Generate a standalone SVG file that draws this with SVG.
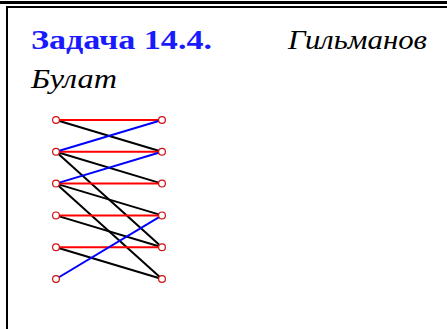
<svg xmlns="http://www.w3.org/2000/svg" width="447" height="329" viewBox="0 0 447 329">
<style>
.e{stroke-width:2;fill:none}
.k{stroke:#000}
.r{stroke:#ff0000}
.b{stroke:#0000ff}
.n{fill:#fff;stroke:#d01010;stroke-width:1.2}
.t{font-family:"Liberation Serif","DejaVu Serif",serif;font-size:28px}
</style>
<rect x="0" y="1" width="447" height="3" fill="#000"/>
<rect x="6" y="6" width="441" height="2" fill="#000"/>
<rect x="6" y="6" width="2" height="323" fill="#000"/>
<text class="t" x="31" y="49" fill="#1a1aff" font-weight="bold" textLength="181" lengthAdjust="spacingAndGlyphs">Задача 14.4.</text>
<text class="t" x="288" y="49" font-style="italic" textLength="139" lengthAdjust="spacingAndGlyphs">Гильманов</text>
<text class="t" x="31" y="88" font-style="italic" textLength="86" lengthAdjust="spacingAndGlyphs">Булат</text>
<g id="connectors">
<line class="e k" x1="56" y1="120" x2="162" y2="151.8"/>
<line class="e k" x1="56" y1="151.8" x2="162" y2="183.6"/>
<line class="e k" x1="56" y1="151.8" x2="162" y2="247.2"/>
<line class="e k" x1="56" y1="183.6" x2="162" y2="215.4"/>
<line class="e k" x1="56" y1="183.6" x2="162" y2="279"/>
<line class="e k" x1="56" y1="215.4" x2="162" y2="247.2"/>
<line class="e k" x1="56" y1="247.2" x2="162" y2="279"/>
<line class="e r" x1="56" y1="120" x2="162" y2="120"/>
<line class="e r" x1="56" y1="151.8" x2="162" y2="151.8"/>
<line class="e r" x1="56" y1="183.6" x2="162" y2="183.6"/>
<line class="e r" x1="56" y1="215.4" x2="162" y2="215.4"/>
<line class="e r" x1="56" y1="247.2" x2="162" y2="247.2"/>
<line class="e b" x1="56" y1="151.8" x2="162" y2="120"/>
<line class="e b" x1="56" y1="183.6" x2="162" y2="151.8"/>
<line class="e b" x1="56" y1="279" x2="162" y2="215.4"/>
</g>
<g id="L1"><circle class="n" cx="56" cy="120" r="3.4"/></g>
<g id="L2"><circle class="n" cx="56" cy="151.8" r="3.4"/></g>
<g id="L3"><circle class="n" cx="56" cy="183.6" r="3.4"/></g>
<g id="L4"><circle class="n" cx="56" cy="215.4" r="3.4"/></g>
<g id="L5"><circle class="n" cx="56" cy="247.2" r="3.4"/></g>
<g id="L6"><circle class="n" cx="56" cy="279" r="3.4"/></g>
<g id="R1"><circle class="n" cx="162" cy="120" r="3.4"/></g>
<g id="R2"><circle class="n" cx="162" cy="151.8" r="3.4"/></g>
<g id="R3"><circle class="n" cx="162" cy="183.6" r="3.4"/></g>
<g id="R4"><circle class="n" cx="162" cy="215.4" r="3.4"/></g>
<g id="R5"><circle class="n" cx="162" cy="247.2" r="3.4"/></g>
<g id="R6"><circle class="n" cx="162" cy="279" r="3.4"/></g>
</svg>
